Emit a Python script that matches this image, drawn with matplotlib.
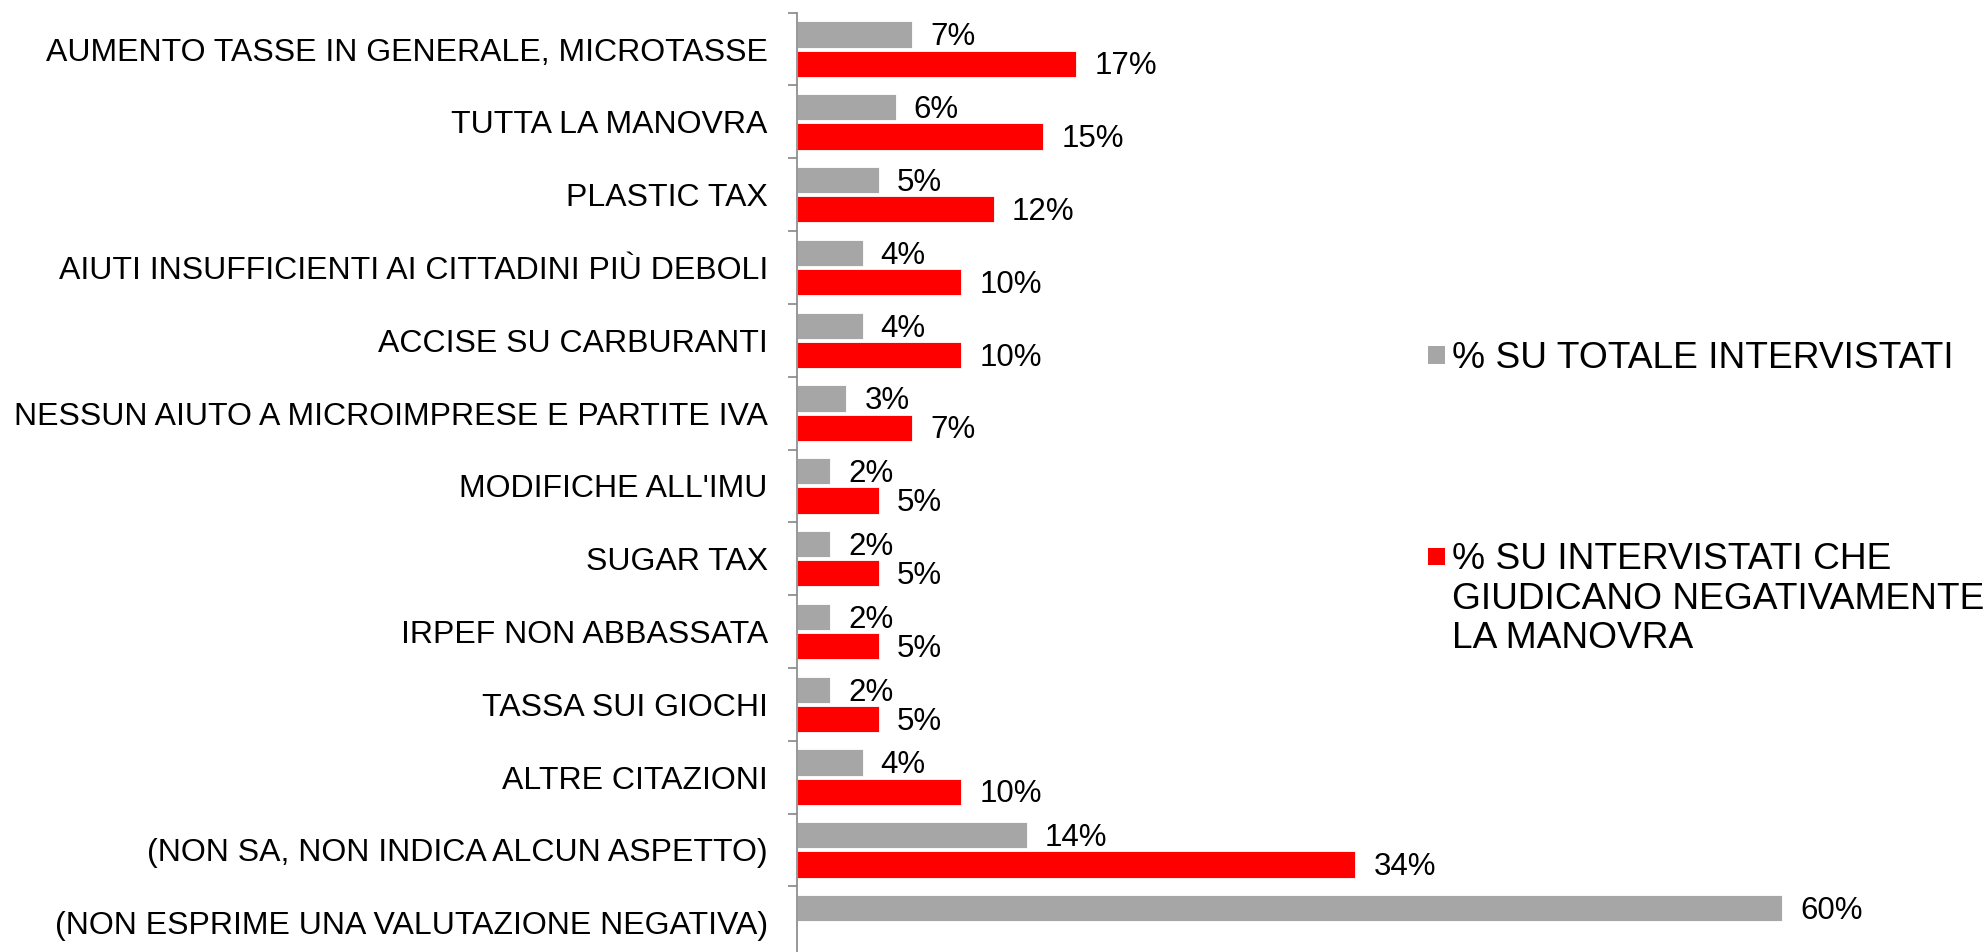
import numpy as np
import matplotlib
matplotlib.use("Agg")
import matplotlib.pyplot as plt
from matplotlib.patches import Rectangle

categories = [
    "AUMENTO TASSE IN GENERALE, MICROTASSE",
    "TUTTA LA MANOVRA",
    "PLASTIC TAX",
    "AIUTI INSUFFICIENTI AI CITTADINI PIÙ DEBOLI",
    "ACCISE SU CARBURANTI",
    "NESSUN AIUTO A MICROIMPRESE E PARTITE IVA",
    "MODIFICHE ALL'IMU",
    "SUGAR TAX",
    "IRPEF NON ABBASSATA",
    "TASSA SUI GIOCHI",
    "ALTRE CITAZIONI",
    "(NON SA, NON INDICA ALCUN ASPETTO)",
    "(NON ESPRIME UNA VALUTAZIONE NEGATIVA)",
]
totale = [7, 6, 5, 4, 4, 3, 2, 2, 2, 2, 4, 14, 60]
negativi = [17, 15, 12, 10, 10, 7, 5, 5, 5, 5, 10, 34, None]
series_labels = ["% SU TOTALE INTERVISTATI",
                 "% SU INTERVISTATI CHE\nGIUDICANO NEGATIVAMENTE\nLA MANOVRA"]
colors = ["#A6A6A6", "#FF0000"]

plt.rcParams['font.family'] = ['Liberation Sans', 'DejaVu Sans']

W, H = 1988, 952
fig = plt.figure(figsize=(W / 100, H / 100), dpi=100)
ax_left = 797 / W
ax_top = 1 - 12.7 / H
cat_h = 72.8
ax_h = cat_h * len(categories) / H
ax_w = 1 - ax_left
ax = fig.add_axes([ax_left, ax_top - ax_h, ax_w, ax_h])

px_per_pct = 16.42
ax.set_xlim(0, (W - 797) / px_per_pct)
ax.set_ylim(len(categories) - 0.5, -0.5)

y = np.arange(len(categories))
bh = 0.36
off = 0.2
for i, v in enumerate(totale):
    ax.barh(y[i] - off, v, height=bh, color=colors[0], edgecolor='white', linewidth=0.6)
    ax.annotate(f"{v}%", (v, y[i] - off), xytext=(13, -2), textcoords='offset points',
                va='center', ha='left', fontsize=22.5)
for i, v in enumerate(negativi):
    if v is None:
        continue
    ax.barh(y[i] + off, v, height=bh, color=colors[1], edgecolor='white', linewidth=0.6)
    ax.annotate(f"{v}%", (v, y[i] + off), xytext=(13, -2), textcoords='offset points',
                va='center', ha='left', fontsize=22.5)

ax.set_yticks(y)
ax.set_yticklabels(categories, fontsize=23)
ax.tick_params(axis='y', which='major', length=0, pad=21)
ax.set_yticks(np.arange(-0.5, len(categories) + 0.5, 1), minor=True)
ax.tick_params(axis='y', which='minor', length=6.5, width=1.2, color='#868686')
ax.set_xticks([])
for s in ['top', 'right', 'bottom']:
    ax.spines[s].set_visible(False)
ax.spines['left'].set_color('#868686')
ax.spines['left'].set_linewidth(1.2)

# legend (drawn manually so the marker aligns with the first line of a multi-line label)
leg_sq_x = 1428
leg_text_x = 1452
leg_centers = [355, 556]
sq = 17
for lab, c, yc in zip(series_labels, colors, leg_centers):
    fig.add_artist(Rectangle((leg_sq_x / W, 1 - (yc + sq / 2) / H), sq / W, sq / H,
                             transform=fig.transFigure, facecolor=c, edgecolor='none'))
    fig.text(leg_text_x / W, 1 - (yc - 14) / H, lab, ha='left', va='top',
             fontsize=26.7, linespacing=1.17)

fig.savefig("out.png", dpi=100)
